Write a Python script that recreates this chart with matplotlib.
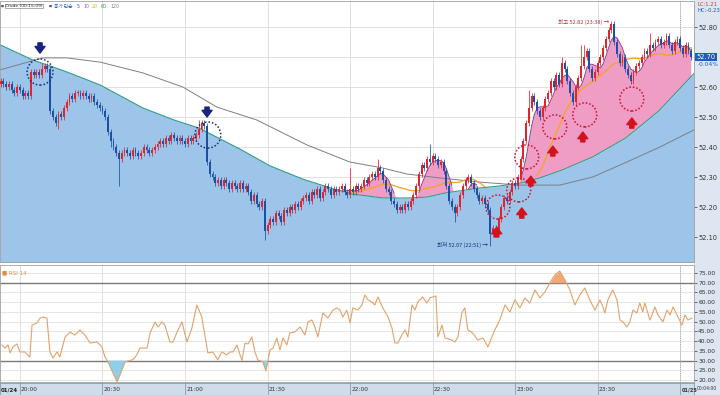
import numpy as np
import pandas as pd
import matplotlib
matplotlib.use('Agg')
import matplotlib.pyplot as plt
from matplotlib.patches import Ellipse, Rectangle

plt.rcParams['font.family'] = ['DejaVu Sans']
KR = ['Noto Sans CJK KR', 'DejaVu Sans']

# 1-minute closes from 19:53 to 00:04, cents above 52.00
close_cents = [62, 61, 60, 61, 59, 58, 60, 59, 57, 58, 57,
               65, 64, 65, 64, 66, 67, 66, 52, 50, 48, 51, 50,
               53, 55, 57, 56, 58, 58, 57, 58, 57, 56, 57,
               55, 54, 53, 52, 50, 45, 42, 40, 38, 36, 38,
               39, 38, 37, 39, 38, 37, 38, 40, 39, 38,
               39, 40, 41, 42, 41, 43, 42, 44, 43, 42, 43,
               42, 41, 43, 42, 43, 44, 46, 48, 47, 35, 31,
               30, 28, 29, 27, 29, 28, 26, 28, 27, 26, 28,
               26, 27, 25, 22, 24, 21, 20, 22, 12,
               14, 16, 15, 18, 17, 15, 19, 18, 20, 19, 21, 20,
               22, 23, 24, 22, 25, 24, 26, 23, 25, 27, 26, 24, 26, 25,
               26, 27, 25, 24, 26, 25, 27, 26,
               27, 29, 28, 30, 31, 30, 33, 32,
               29, 26, 25, 22, 21, 19, 20,
               19, 21, 20, 22, 24, 27,
               31, 34, 33, 36, 35, 37, 36, 34, 35, 32,
               27, 22, 20, 18, 20, 24, 27, 29, 30,
               28, 26, 24, 22, 23, 21, 19,
               11, 13, 12, 16, 20, 23, 22, 25, 28, 27, 30,
               36, 42, 48, 53, 57, 55, 52, 50, 53,
               56, 58, 62, 60, 64, 61, 68, 66, 62, 58, 55,
               60, 63, 67, 70, 72, 66, 63, 65,
               68, 70, 73, 76, 79, 81, 75, 71, 68, 70,
               66, 64, 62, 65, 67,
               68, 70, 72, 71, 74, 73, 75, 76, 74,
               75, 77, 74, 72, 75, 76, 73, 71, 74, 72, 70]
open_first = 61
high_cents = {15: 68, 72: 49, 73: 49, 127: 33, 137: 36, 156: 41, 192: 59,
              204: 70, 211: 74, 212: 74, 222: 82, 236: 78}
low_cents = {11: 56, 18: 51, 21: 46, 40: 40, 43: 27, 96: 9, 145: 18,
             165: 15, 178: 7}

# long moving averages (candle index, price)
ma60_idx = [-0.3, 11.7, 24.1, 36.1, 51.7, 63.0, 72.1, 87.0, 97.9, 109.8, 121.1,
            128.0, 138.9, 148.0, 154.9, 161.8, 173.8, 181.1, 189.1, 196.0,
            204.0, 215.2, 227.2, 239.2, 252.0]
ma60_val = [52.741, 52.690, 52.650, 52.607, 52.530, 52.490, 52.463, 52.393,
            52.337, 52.293, 52.260, 52.243, 52.230, 52.230, 52.233, 52.247,
            52.263, 52.270, 52.280, 52.297, 52.323, 52.367, 52.430, 52.520, 52.645]
ma120_idx = [-0.3, 15.4, 24.1, 36.1, 51.7, 66.2, 78.6, 93.1, 111.3, 126.9, 138.9,
             147.6, 159.6, 174.2, 188.7, 203.2, 215.2, 227.6, 239.6, 252.0]
ma120_val = [52.657, 52.697, 52.697, 52.683, 52.647, 52.600, 52.533, 52.490,
             52.407, 52.350, 52.330, 52.310, 52.297, 52.283, 52.273, 52.273,
             52.300, 52.350, 52.400, 52.457]

rsi_idx = [0.5, 1.6, 2.7, 3.4, 4.5, 5.9, 7.0, 8.8, 10.6, 11.4,
           13.2, 14.3, 15.4, 16.8, 17.9, 19.0, 20.5, 21.5, 23.4, 25.2,
           27.0, 28.8, 30.6, 32.5, 35.0, 36.8, 37.9, 39.0, 42.3, 44.1,
           45.2, 48.1, 49.5, 50.6, 53.2, 54.3, 56.1, 57.2, 58.6, 59.7,
           61.5, 62.6, 64.1, 65.9, 67.7, 69.5, 71.3, 73.1, 75.3, 77.1,
           78.9, 80.4, 82.2, 83.3, 84.4, 85.9, 87.0, 87.7, 88.8, 89.9,
           91.3, 92.4, 93.5, 95.3, 96.4, 97.9, 99.0, 100.4, 101.5, 102.6,
           104.0, 105.1, 106.9, 108.8, 110.6, 111.7, 113.1, 114.2, 115.3, 117.1,
           118.9, 120.8, 122.2, 123.3, 124.4, 125.8, 127.0, 128.0, 129.8, 131.3,
           132.4, 133.5, 135.0, 136.0, 137.1, 138.9, 140.8, 142.2, 143.3, 144.4,
           145.8, 147.0, 148.0, 149.5, 150.6, 151.6, 153.4, 154.9, 156.0, 157.1,
           158.2, 158.9, 160.4, 161.5, 164.0, 165.1, 166.2, 167.6, 168.7, 169.8,
           171.6, 173.4, 175.3, 177.1, 179.6, 181.4, 183.3, 185.1, 186.9, 188.7,
           190.5, 192.3, 194.2, 196.0, 197.8, 199.6, 201.4, 203.2, 205.1, 206.9,
           208.7, 210.5, 212.3, 214.1, 216.0, 217.8, 218.9, 219.6, 220.7, 222.5,
           224.0, 225.1, 226.2, 227.6, 228.7, 229.8, 231.2, 232.3, 233.4, 234.1,
           236.0, 237.8, 238.9, 240.7, 242.2, 243.3, 244.4, 246.2, 247.6, 248.7,
           249.8, 251.2]
rsi_val = [38.1, 36.5, 38.1, 34.0, 37.1, 38.6, 34.5, 34.5, 31.9, 48.3,
           49.4, 51.9, 52.4, 51.9, 34.5, 31.4, 34.5, 31.9, 42.2, 44.7,
           43.2, 45.8, 43.2, 39.1, 39.6, 37.1, 31.9, 29.4, 19.1, 25.3,
           29.4, 30.6, 33.0, 36.5, 36.5, 44.2, 49.9, 47.3, 49.9, 48.3,
           39.6, 39.6, 44.7, 49.9, 39.6, 46.8, 58.6, 52.4, 34.0, 34.5,
           30.5, 34.5, 33.0, 34.5, 34.5, 38.1, 33.0, 30.2, 39.1, 38.6,
           42.2, 34.5, 30.4, 29.4, 24.7, 35.5, 36.5, 41.7, 35.5, 41.7,
           38.1, 44.2, 44.7, 47.3, 43.2, 49.9, 50.9, 47.3, 42.2, 54.5,
           51.9, 56.0, 57.1, 56.0, 52.4, 56.0, 49.4, 57.1, 56.0, 58.6,
           63.7, 61.2, 60.1, 58.6, 62.7, 57.1, 52.4, 46.8, 39.1, 39.1,
           43.2, 45.8, 42.2, 58.6, 56.0, 60.1, 62.7, 59.6, 62.2, 62.7,
           63.2, 42.2, 48.3, 41.7, 40.6, 39.6, 42.2, 54.5, 57.1, 45.8,
           44.2, 40.6, 41.7, 37.1, 45.8, 50.9, 58.6, 55.0, 61.2, 57.1,
           62.2, 59.6, 66.3, 62.2, 65.3, 69.9, 74.0, 76.0, 71.4, 66.3,
           58.6, 63.7, 67.3, 61.2, 56.0, 61.2, 57.6, 54.5, 61.2, 66.3,
           61.2, 50.9, 49.9, 47.3, 49.9, 56.0, 54.5, 59.6, 55.0, 59.6,
           50.9, 57.6, 53.5, 49.9, 56.0, 53.5, 57.6, 52.4, 48.3, 53.5,
           50.9, 51.9]

time_ticks = [7, 37, 67, 97, 127, 157, 187, 217, 247]
time_labels = ['20:00', '20:30', '21:00', '21:30', '22:00', '22:30', '23:00', '23:30', '01/25']
price_ticks = [52.10, 52.20, 52.30, 52.40, 52.50, 52.60, 52.80]
rsi_ticks = [20, 25, 30, 35, 40, 45, 50, 55, 60, 65, 70, 75]
last_price = 52.70

# markers drawn on the chart (candle index, price)
navy_circles = [(14.3, 52.650), (75.3, 52.440)]
navy_arrows = [(14.3, 52.747, 52.713), (75.0, 52.533, 52.500)]
red_circles = [(180.7, 52.200), (188.3, 52.257), (191.2, 52.367),
               (201.4, 52.467), (212.3, 52.507), (229.4, 52.560)]
red_arrows = [(180.3, 52.100, 52.133), (189.4, 52.163, 52.197), (192.7, 52.270, 52.303),
              (200.7, 52.370, 52.403), (211.6, 52.417, 52.450), (229.4, 52.463, 52.497)]

close = 52 + np.array(close_cents) / 100
opn = np.r_[52 + open_first / 100, close[:-1]]
idx = np.arange(len(close))
high = np.maximum(opn, close) + 0.01
low = np.minimum(opn, close) - 0.01
for k, v in high_cents.items():
    high[k] = 52 + v / 100
for k, v in low_cents.items():
    low[k] = 52 + v / 100

ma5 = pd.Series(close).rolling(5).mean().values
ma20 = pd.Series(close).rolling(20).mean().values
ma60_at = np.interp(idx, ma60_idx, ma60_val)

W, H = 720, 395
def rect(x0, y0, x1, y1):
    return [x0 / W, 1 - y1 / H, (x1 - x0) / W, (y1 - y0) / H]

fig = plt.figure(figsize=(7.2, 3.95), dpi=100)
fig.add_artist(Rectangle((694 / W, 0), 26 / W, 1, transform=fig.transFigure,
                         facecolor='#dde6f1', edgecolor='none', zorder=-1))
ax = fig.add_axes(rect(0, 1, 694, 262))
axr = fig.add_axes(rect(0, 265, 694, 382))
axt = fig.add_axes(rect(0, 383, 694, 395))
xlim = (-0.25, 252.0)

# ---- price panel
ax.set_xlim(*xlim)
ax.set_ylim(52.0167, 52.8867)
for t in time_ticks:
    ax.axvline(t, color='#dadada', lw=0.6, zorder=0)
for p in np.arange(52.1, 52.85, 0.1):
    ax.axhline(p, color='#dadada', lw=0.6, zorder=0)
ax.axvline(247, color='#999999', lw=0.6, ls=(0, (1, 1.5)), zorder=0.5)

up5 = np.where(ma5 > ma60_at, ma5, np.nan)
up20 = np.where(ma20 > ma60_at, ma20, np.nan)
ax.fill_between(idx, ma5, ma60_at, where=ma5 > ma60_at, interpolate=True,
                color='#f09dc5', lw=0, zorder=1)
ax.fill_between(ma60_idx, ma60_val, 52.0, color='#9cc5e9', lw=0, zorder=1.1)
ax.plot(ma60_idx, ma60_val, color='#2f9c88', lw=0.8, zorder=1.5)
ax.plot(ma120_idx, ma120_val, color='#7d7f86', lw=0.7, zorder=1.6)
ax.plot(idx, up20, color='#f2a51f', lw=0.9, zorder=1.7)
ax.plot(idx, up5, color='#7a3d8c', lw=0.6, zorder=1.8)

up = close >= opn
cols = np.where(up, '#e3232c', '#1d4fa3')
ax.vlines(idx, low, high, colors=cols, lw=0.55, zorder=3)
body = np.maximum(np.abs(close - opn), 0.002)
ax.bar(idx, body, bottom=np.minimum(opn, close), width=0.7, color=cols, lw=0, zorder=3.1)

for cx, cy in navy_circles:
    ax.add_patch(Ellipse((cx, cy), 9.4, 0.087, fill=False, ec='#1a2a7a', lw=1.1,
                         ls=(0, (1, 1.3)), zorder=4))
for cx, cy in red_circles:
    ax.add_patch(Ellipse((cx, cy), 8.7, 0.08, fill=False, ec='#c8102e', lw=1.1,
                         ls=(0, (1, 1.3)), zorder=4))
for x, tail, tip in navy_arrows:
    ax.annotate('', xy=(x, tip), xytext=(x, tail), zorder=5,
                arrowprops=dict(arrowstyle='simple,head_width=1.2,head_length=0.8,tail_width=0.5',
                                fc='#1a237e', ec='#1a237e', mutation_scale=6, shrinkA=0, shrinkB=0))
for x, tail, tip in red_arrows:
    ax.annotate('', xy=(x, tip), xytext=(x, tail), zorder=5,
                arrowprops=dict(arrowstyle='simple,head_width=1.2,head_length=0.8,tail_width=0.5',
                                fc='#d3121d', ec='#d3121d', mutation_scale=6, shrinkA=0, shrinkB=0))

ax.text(221.0, 52.818, '최고 52.82 (23:38) →', ha='right', va='center', fontsize=4,
        color='#b83030', family=KR, zorder=6)
ax.text(177.0, 52.075, '최저 52.07 (22:51) →', ha='right', va='center', fontsize=4,
        color='#1b2f80', family=KR, zorder=6)

ax.yaxis.tick_right()
ax.set_yticks(price_ticks)
ax.set_yticklabels([f'{p:.2f}' for p in price_ticks])
ax.tick_params(axis='y', labelsize=4.8, length=2, width=0.5, pad=1, colors='#333333')
ax.set_xticks([])
for s in ax.spines.values():
    s.set_color('#a0a0a0')
    s.set_linewidth(0.6)

ax.text(1.004, last_price, f'{last_price:.2f}', transform=ax.get_yaxis_transform(),
        fontsize=4.8, color='white', va='center', ha='left', clip_on=False, zorder=10,
        bbox=dict(boxstyle='square,pad=0.2', fc='#1f5cc0', ec='none'))
ax.text(1.006, last_price - 0.024, '-0.04%', transform=ax.get_yaxis_transform(),
        fontsize=4.2, color='#1f5cc0', va='center', ha='left', clip_on=False, zorder=10)

# ---- RSI panel
axr.set_xlim(*xlim)
axr.set_ylim(19.1, 79.1)
for t in time_ticks:
    axr.axvline(t, color='#dadada', lw=0.6, zorder=0)
for v in rsi_ticks:
    if v in (30, 70):
        axr.axhline(v, color='#7a7a7a', lw=1.0, zorder=0.5)
    else:
        axr.axhline(v, color='#e2e2e2', lw=0.6, zorder=0)
axr.axvline(247, color='#999999', lw=0.6, ls=(0, (1, 1.5)), zorder=0.5)
rv = np.array(rsi_val)
axr.fill_between(rsi_idx, rv, 30, where=rv < 30, interpolate=True, color='#8dcfe9', lw=0, zorder=1)
axr.fill_between(rsi_idx, rv, 70, where=rv > 70, interpolate=True, color='#f2a777', lw=0, zorder=1)
axr.plot(rsi_idx, rv, color='#e2a36a', lw=0.8, zorder=2)
axr.yaxis.tick_right()
axr.set_yticks(rsi_ticks)
axr.set_yticklabels([f'{v:.2f}' for v in rsi_ticks])
axr.tick_params(axis='y', labelsize=4.3, length=2, width=0.5, pad=1, colors='#333333')
axr.set_xticks([])
for s in axr.spines.values():
    s.set_color('#a0a0a0')
    s.set_linewidth(0.6)
axr.text(0.003, 0.95, '■ RSI 14', transform=axr.transAxes, fontsize=4, color='#e08a3c',
         va='top', ha='left')

# ---- time strip
axt.set_xlim(*xlim)
axt.set_ylim(0, 1)
axt.set_facecolor('#cfdcea')
axt.set_xticks([])
axt.set_yticks([])
for s in axt.spines.values():
    s.set_color('#8a9bb0')
    s.set_linewidth(0.6)
axt.text(0.2, 0.45, '01/24', fontsize=4.0, va='center', ha='left', color='#222222', fontweight='bold')
for t, lab in zip(time_ticks, time_labels):
    axt.axvline(t, color='#7f90a6', lw=0.5)
    is_date = '/' in lab
    axt.text(t + 0.4, 0.45, lab, fontsize=3.6 if is_date else 4.2, va='center', ha='left',
             color='#333333', fontweight='bold' if is_date else 'normal')
fig.text(697 / W, 1 - 389 / H, '00:04:00', fontsize=3.3, va='center', ha='left', color='#333333')

# ---- header texts
hy = 1 - 6 / H
fig.text(1 / W, hy, '■', fontsize=2.3, color='#555555', va='center')
fig.text(5 / W, hy, 'Crude (00:15:09)', fontsize=3.2, color='#222222', va='center',
         bbox=dict(boxstyle='square,pad=0.1', fc='white', ec='#888888', lw=0.5))
fig.text(49 / W, hy, '■', fontsize=2.3, color='#555555', va='center')
fig.text(54 / W, hy, '종가 단순', fontsize=3.4, color='#2b62c4', va='center', family=KR)
for xp, lab, col in [(77, '5', '#2b62c4'), (83, '10', '#b0589c'), (92, '20', '#e0b000'),
                     (101, '60', '#2f9c50'), (110, '120', '#808080')]:
    fig.text(xp / W, hy, lab, fontsize=3.4, color=col, va='center')
fig.text(697 / W, 1 - 4 / H, 'LC:1.21', fontsize=3.8, color='#d0302a', va='center')
fig.text(697 / W, 1 - 11 / H, 'HC:-0.23', fontsize=3.8, color='#2050b0', va='center')

fig.savefig('out.png', dpi=100, facecolor='white')
